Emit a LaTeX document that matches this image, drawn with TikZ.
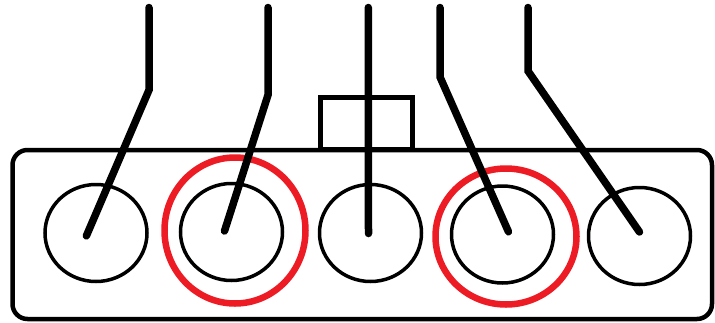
\documentclass[tikz,border=0pt]{standalone}
\usepackage{xcolor}
\usepackage{tikz}
\usetikzlibrary{shapes.geometric}
\definecolor{ringred}{HTML}{ED1C24}

\begin{document}
\begin{tikzpicture}[x=1pt,y=-1pt,
  hole/.style={draw,ellipse,line width=3.5pt,minimum width=102pt,minimum height=97pt,inner sep=0pt},
  ring/.style={draw=ringred,ellipse,line width=6.5pt,inner sep=0pt},
  wire/.style={line width=7.5pt,line cap=round}]
\useasboundingbox (0,0) rectangle (715,322);
\node[draw,line width=4.5pt,rounded corners=15pt,minimum width=699.5pt,minimum height=169pt,inner sep=0pt] (housing) at (362.25,234.5) {};
\node[draw,line width=4.5pt,minimum width=92pt,minimum height=52pt,inner sep=0pt] (tab) at (366.5,123.5) {};
\node[hole] (c1) at (96,233) {};
\node[hole] (c2) at (231.5,232) {};
\node[hole] (c3) at (370.5,233) {};
\node[hole] (c4) at (502.5,234.5) {};
\node[hole] (c5) at (639.5,236) {};
\node[ring,minimum width=141pt,minimum height=146pt] (r2) at (235,230.5) {};
\node[ring,minimum width=141pt,minimum height=136pt] (r4) at (506,236.5) {};
\coordinate (t1) at (149,7.5);
\coordinate (b1) at (149,90);
\coordinate (t2) at (268,7.5);
\coordinate (b2) at (268,95);
\coordinate (t3) at (368.3,7.5);
\coordinate (t4) at (440,7.5);
\coordinate (b4) at (440,77);
\coordinate (t5) at (528,7.5);
\coordinate (b5) at (528,71);
\draw[wire] (t1) -- (b1) -- ([shift={(-9.6,2.8)}]c1.center);
\draw[wire] (t2) -- (b2) -- ([shift={(-7,-1)}]c2.center);
\draw[wire] (t3) -- ([shift={(-2,0.5)}]c3.center);
\draw[wire] (t4) -- (b4) -- ([shift={(6,-2.7)}]c4.center);
\draw[wire] (t5) -- (b5) -- ([shift={(0,-4)}]c5.center);
\end{tikzpicture}
\end{document}
